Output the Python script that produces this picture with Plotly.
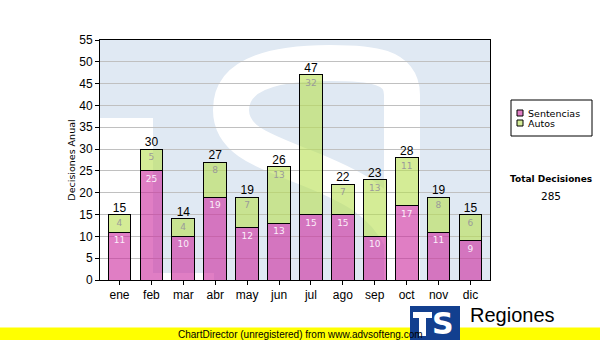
import plotly.graph_objects as go

# Monthly decisions, split by type
meses = ["ene", "feb", "mar", "abr", "may", "jun", "jul", "ago", "sep", "oct", "nov", "dic"]
sentencias = [11, 25, 10, 19, 12, 13, 15, 15, 10, 17, 11, 9]
autos = [4, 5, 4, 8, 7, 13, 32, 7, 13, 11, 8, 6]
totales = [s + a for s, a in zip(sentencias, autos)]
total_decisiones = sum(totales)
series_names = ["Sentencias", "Autos"]

W, H = 600, 340
L, R, T, B = 100, 110, 40, 60
PW, PH = W - L - R, H - T - B


def px(x):
    return (x - L) / PW


def py(y):
    return (H - B - y) / PH


pink = "rgba(203,40,157,0.6)"
green = "rgba(183,223,80,0.6)"
pink_solid = "#e07ec4"
green_solid = "#d5ec98"

fig = go.Figure()
fig.add_trace(go.Bar(
    x=meses, y=sentencias, name=series_names[0], showlegend=False,
    marker=dict(color=pink, line=dict(color="black", width=1)),
    text=[str(v) for v in sentencias], textposition="inside", insidetextanchor="end",
    textangle=0, constraintext="none",
    insidetextfont=dict(family="DejaVu Sans", size=9, color="#fbeefa"),
))
fig.add_trace(go.Bar(
    x=meses, y=autos, name=series_names[1], showlegend=False,
    marker=dict(color=green, line=dict(color="black", width=1)),
    text=[str(v) for v in autos], textposition="inside", insidetextanchor="end",
    textangle=0, constraintext="none",
    insidetextfont=dict(family="DejaVu Sans", size=9, color="#9a9a9a"),
))
fig.add_trace(go.Scatter(
    x=meses, y=totales, mode="text", text=[str(v) for v in totales],
    textposition="top center", showlegend=False, hoverinfo="skip",
    textfont=dict(family="Liberation Sans", size=12, color="black"),
))

blue_wm = "#e0e9f3"
s_path = (f"M{px(402)},{py(300)} L{px(402)},{py(95)} "
          f"C{px(402)},{py(66)} {px(372)},{py(63)} {px(330)},{py(63)} "
          f"C{px(268)},{py(63)} {px(231)},{py(76)} {px(231)},{py(110)} "
          f"C{px(231)},{py(140)} {px(262)},{py(150)} {px(302)},{py(166)} "
          f"C{px(350)},{py(185)} {px(382)},{py(200)} {px(402)},{py(240)}")

shapes = [
    # watermark: tinted block with T-shaped cut and white S
    dict(type="rect", xref="paper", yref="paper", x0=0, x1=1, y0=0, y1=1,
         fillcolor=blue_wm, line=dict(width=0), layer="below"),
    dict(type="rect", xref="paper", yref="paper", x0=0, x1=px(153), y0=0, y1=py(118),
         fillcolor="white", line=dict(width=0), layer="below"),
    dict(type="rect", xref="paper", yref="paper", x0=px(153), x1=px(214), y0=0, y1=py(273),
         fillcolor="white", line=dict(width=0), layer="below"),
    dict(type="path", xref="paper", yref="paper", layer="below", path=s_path,
         line=dict(color="white", width=36)),
    # legend box and swatches
    dict(type="rect", xref="paper", yref="paper", x0=px(511), x1=px(592), y0=py(136), y1=py(100),
         fillcolor="white", line=dict(color="black", width=1), layer="above"),
    dict(type="rect", xref="paper", yref="paper", x0=px(517), x1=px(523), y0=py(116), y1=py(110),
         fillcolor=pink_solid, line=dict(color="black", width=1), layer="above"),
    dict(type="rect", xref="paper", yref="paper", x0=px(517), x1=px(523), y0=py(126), y1=py(120),
         fillcolor=green_solid, line=dict(color="black", width=1), layer="above"),
    # bottom banner
    dict(type="rect", xref="paper", yref="paper", x0=px(0), x1=px(600), y0=py(340), y1=py(327.5),
         fillcolor="#ffff00", line=dict(width=0), layer="above"),
    # logo block
    dict(type="rect", xref="paper", yref="paper", x0=px(410), x1=px(460), y0=py(340), y1=py(306),
         fillcolor="#123f8f", line=dict(width=0), layer="above"),
    dict(type="rect", xref="paper", yref="paper", x0=px(413), x1=px(432), y0=py(318), y1=py(312),
         fillcolor="white", line=dict(width=0), layer="above"),
    dict(type="rect", xref="paper", yref="paper", x0=px(419), x1=px(426), y0=py(336), y1=py(312),
         fillcolor="white", line=dict(width=0), layer="above"),
]

annotations = [
    dict(x=px(526), y=py(113), xref="paper", yref="paper", text=series_names[0], showarrow=False,
         font=dict(family="DejaVu Sans", size=9.5, color="black"), xanchor="left", yanchor="middle"),
    dict(x=px(526), y=py(123), xref="paper", yref="paper", text=series_names[1], showarrow=False,
         font=dict(family="DejaVu Sans", size=9.5, color="black"), xanchor="left", yanchor="middle"),
    dict(x=px(443), y=py(323), xref="paper", yref="paper", text="<b>S</b>", showarrow=False,
         font=dict(family="DejaVu Sans", size=30, color="white"), xanchor="center", yanchor="middle"),
    dict(x=px(468), y=py(315), xref="paper", yref="paper", text="Regiones", showarrow=False,
         font=dict(family="Liberation Sans", size=20, color="black"), xanchor="left", yanchor="middle"),
    dict(x=px(300), y=py(334), xref="paper", yref="paper",
         text="ChartDirector (unregistered) from www.advsofteng.com", showarrow=False,
         font=dict(family="Liberation Sans", size=10, color="black"), xanchor="center", yanchor="middle"),
    dict(x=px(551), y=py(179), xref="paper", yref="paper", text="<b>Total Decisiones</b>",
         showarrow=False, font=dict(family="DejaVu Sans", size=9, color="black"),
         xanchor="center", yanchor="middle"),
    dict(x=px(551), y=py(196), xref="paper", yref="paper", text=str(total_decisiones),
         showarrow=False, font=dict(family="DejaVu Sans", size=10.5, color="black"),
         xanchor="center", yanchor="middle"),
]

fig.update_layout(
    width=W, height=H,
    margin=dict(l=L, r=R, t=T, b=B, pad=0),
    paper_bgcolor="white", plot_bgcolor="white",
    barmode="stack", bargap=0.29,
    showlegend=False,
    shapes=shapes, annotations=annotations,
    font=dict(family="Liberation Sans", color="black"),
)
fig.update_xaxes(
    showline=True, linecolor="black", linewidth=1, mirror=True,
    ticks="outside", ticklen=4, tickcolor="black",
    tickfont=dict(family="Liberation Sans", size=12, color="black"),
    showgrid=False,
)
fig.update_yaxes(
    range=[0, 55], dtick=5, tick0=0,
    showline=True, linecolor="black", linewidth=1, mirror=True,
    ticks="outside", ticklen=4, tickcolor="black",
    tickfont=dict(family="Liberation Sans", size=12, color="black"),
    showgrid=True, gridcolor="#c0c0c0", gridwidth=1, zeroline=False,
    title=dict(text="Decisiones Anual", standoff=1,
               font=dict(family="DejaVu Sans", size=9.5, color="black")),
)

fig.write_html("out.html")
